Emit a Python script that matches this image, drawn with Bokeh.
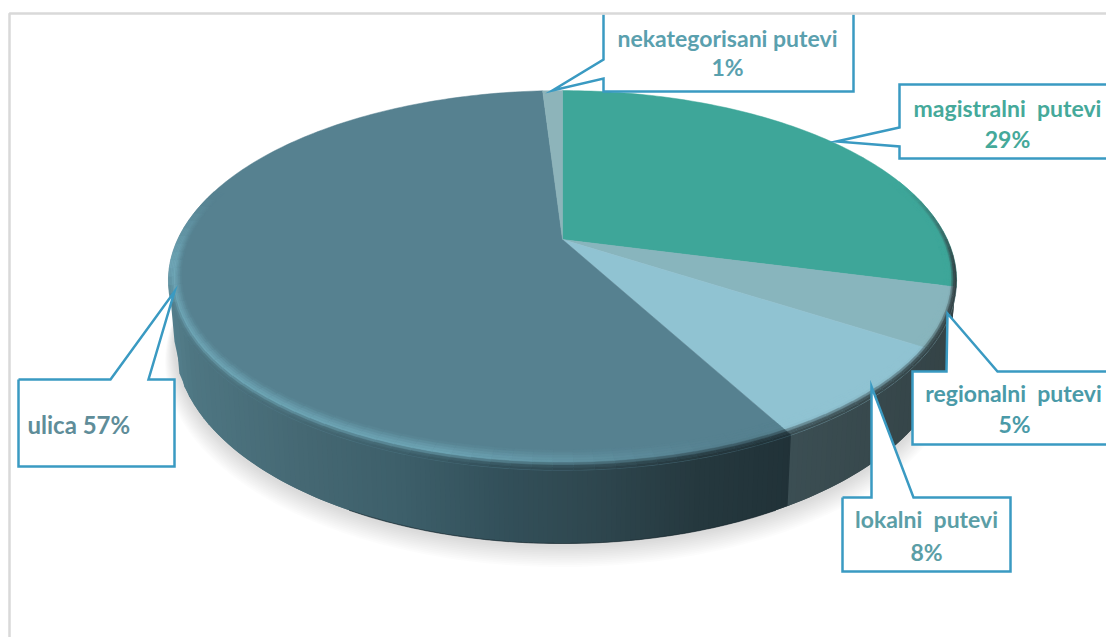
import numpy as np
from bokeh.plotting import figure
from bokeh.models import Range1d
from bokeh.core.properties import value
from bokeh.embed import file_html
from bokeh.resources import INLINE

# ---- chart data ----
categories = ["magistralni putevi", "regionalni putevi", "lokalni putevi", "ulica", "nekategorisani putevi"]
shares = [29, 5, 8, 57, 1]
slice_colors = ["#3ea699", "#88b5bd", "#90c3d2", "#568190", "#8db4ba"]
label_colors = ["#45a99a", "#4a9aa8", "#5b9ea6", "#5f8d99", "#5aa0ae"]

W, H = 1106, 637
p = figure(width=W, height=H, x_range=Range1d(0, W), y_range=Range1d(H, 0),
           x_axis_location=None, y_axis_location=None, toolbar_location=None,
           output_backend="svg", min_border=0, outline_line_color=None,
           background_fill_color="white", border_fill_color="white")
p.grid.visible = False

# projection of the tilted disc
CX, APEX_Y, A, B, K = 562.0, 239.0, 384.8, 181.0, 0.2155


def proj(theta_deg, r=1.0):
    t = np.radians(theta_deg)
    u, v = np.cos(t), np.sin(t)
    d = 1 + K * r * u
    return CX + A * r * v / d, APEX_Y - B * r * u / d


def hexc(c):
    return "#%02x%02x%02x" % tuple(int(round(max(0, min(255, x)))) for x in c)


def rgb(h):
    return np.array([int(h[i:i + 2], 16) for i in (1, 3, 5)], dtype=float)


def mix(a, b, t):
    return a + (b - a) * t


cum = np.concatenate([[0], np.cumsum(shares)]) * 3.6

# soft shadow under the disc
TOP_RX, TOP_CY, TOP_RY = 394.0, 280.0, 190.0
BOT_RX, BOT_CY, BOT_RY = 388.0, 341.0, 202.0
phi = np.linspace(0, 2 * np.pi, 240)
sx, sy = [], []
for i in range(12, 0, -1):
    sx.append(list(CX + (BOT_RX + i * 0.8) * np.cos(phi)))
    sy.append(list(BOT_CY + 2 + i * 1.5 + (BOT_RY + i * 0.3) * np.sin(phi)))
p.patches(sx, sy, fill_color="black", fill_alpha=0.011, line_color=None)

# side wall
boundary_f = (proj(cum[3])[0] - CX) / TOP_RX
stop_x = [168, 190, 300, 400, 500, 600, 700, 790]
stop_c = np.array([[84, 127, 140], [78, 118, 130], [69, 104, 115], [61, 95, 106],
                   [51, 80, 90], [46, 70, 78], [37, 56, 62], [33, 50, 56]], dtype=float)


def wall_color(x):
    if x > CX + TOP_RX * boundary_f:
        q = (x - 790) / 166
        return np.array([mix(59, 52, q), mix(78, 67, q), mix(83, 70, q)])
    return np.array([np.interp(x, stop_x, stop_c[:, j]) for j in range(3)])


fs = np.linspace(-1, 1, 161)
fs = np.sort(np.append(fs, boundary_f))
wx, wy, wc = [], [], []
for n in range(len(fs) - 1):
    f0 = fs[n]
    f1 = fs[min(n + 2, len(fs) - 1)]    # overlap into the next strip: no seams
    fm = (fs[n] + fs[n + 1]) / 2
    s0, s1 = np.sqrt(max(0, 1 - f0 ** 2)), np.sqrt(max(0, 1 - f1 ** 2))
    wx.append([CX + TOP_RX * f0, CX + TOP_RX * f1, CX + BOT_RX * f1, CX + BOT_RX * f0])
    wy.append([TOP_CY + TOP_RY * s0 - 4, TOP_CY + TOP_RY * s1 - 4, BOT_CY + BOT_RY * s1, BOT_CY + BOT_RY * s0])
    wc.append(hexc(wall_color(CX + TOP_RX * fm)))
p.patches(wx, wy, fill_color=wc, line_color=None)
edge_f = np.linspace(-0.55, 0.55, 80)
p.line(CX + BOT_RX * edge_f, BOT_CY + BOT_RY * np.sqrt(1 - edge_f ** 2), line_color="#1c2c32", line_width=1.2, line_alpha=0.6)

# top face
tx, ty = [], []
for a0, a1 in zip(cum[:-1], cum[1:]):
    th = np.linspace(a0, a1, max(3, int((a1 - a0) / 1.0)))
    x, y = proj(th)
    tx.append([CX] + list(x))
    ty.append([APEX_Y] + list(y))
p.patches(tx, ty, fill_color=slice_colors, line_color=slice_colors, line_width=0.5)


# bevelled rim
def ramp(t, a, b):
    return float(np.clip((t - a) / (b - a), 0, 1))


N_BANDS = 8
rx, ry, rc = [], [], []
HI = np.array([110, 166, 182], dtype=float)
for (a0, a1, col) in zip(cum[:-1], cum[1:], slice_colors):
    base = rgb(col)
    ths = np.arange(a0, a1 + 0.01, 2.5)
    if ths[-1] < a1:
        ths = np.append(ths, a1)
    for t0, t1 in zip(ths[:-1], ths[1:]):
        tm = (t0 + t1) / 2
        if tm < 70 or tm > 285:
            continue
        um = np.cos(np.radians(tm))
        w = 0.03 + 0.04 * um ** 2
        light = ramp(tm, 160, 195) * (1 - ramp(tm, 262, 285))
        dark = ramp(tm, 72, 98) * (1 - ramp(tm, 250, 262))
        xm, _ = proj(tm)
        target = wall_color(xm)
        mid = mix(base, HI, light)
        for b in range(N_BANDS):
            q0, q1 = b / N_BANDS, (b + 1) / N_BANDS
            qm = (q0 + q1) / 2
            if qm < 0.55:
                c = mix(base, mid, qm / 0.55)
            else:
                c = mix(mid, mix(mid, target, dark), min(1, (qm - 0.55) / 0.3))
            x00, y00 = proj(t0, 1 - w * (1 - q0))
            x10, y10 = proj(t1, 1 - w * (1 - q0))
            x11, y11 = proj(t1, 1 - w * (1 - q1))
            x01, y01 = proj(t0, 1 - w * (1 - q1))
            rx.append([x00, x10, x11, x01])
            ry.append([y00, y10, y11, y01])
            rc.append(hexc(c))
p.patches(rx, ry, fill_color=rc, line_color=rc, line_width=0.4)

# callouts (screen-pixel layout)
callouts = [
    ([603, 603, 552, 603, 603, 853, 853], [14, 59, 90, 78, 91, 91, 14], False),
    ([1110, 899, 899, 836, 899, 899, 1110], [84, 84, 127, 141, 146, 158, 158], False),
    ([1110, 997, 947, 946, 912, 912, 1110], [371, 371, 313, 371, 371, 444, 444], False),
    ([842, 871, 871, 913, 1010, 1010, 842], [497, 497, 386, 497, 497, 571, 571], True),
    ([18, 110, 174, 148, 174, 174, 18], [379, 379, 291, 379, 379, 466, 466], True),
]
for xs, ys, closed in callouts:
    p.patch(xs, ys, fill_color="white", line_color=None)
    lx = list(xs) + ([xs[0]] if closed else [])
    ly = list(ys) + ([ys[0]] if closed else [])
    p.line(lx, ly, line_color="#3a9ac2", line_width=2.5, line_join="miter")

# chart-area border
p.line([9, 9, 1110], [640, 13, 13], line_color="#d9d9d9", line_width=2.5)

# labels
FS = "23px"
pct = ["%d%%" % v for v in shares]
line1 = [(1007, 107), (1013, 392), (926, 518), None, (727, 37)]
line2 = [(1007, 138), (1014, 423), (926, 551), None, (727, 66)]
wide = {0, 1, 2}
for i in range(5):
    if i == 3:
        p.text([27], [424], text=[categories[3] + " " + pct[3]], text_font=value("Lato"),
               text_font_style="bold", text_font_size="24px", text_color=label_colors[3],
               text_align="left", text_baseline="middle")
        continue
    shown = categories[i].replace(" ", "\u00a0\u00a0") if i in wide else categories[i]
    p.text([line1[i][0]], [line1[i][1]], text=[shown], text_font=value("Lato"),
           text_font_style="bold", text_font_size=FS, text_color=label_colors[i],
           text_align="center", text_baseline="middle")
    p.text([line2[i][0]], [line2[i][1]], text=[pct[i]], text_font=value("Lato"),
           text_font_style="bold", text_font_size=FS, text_color=label_colors[i],
           text_align="center", text_baseline="middle")

open("out.html", "w").write(file_html(p, INLINE))
